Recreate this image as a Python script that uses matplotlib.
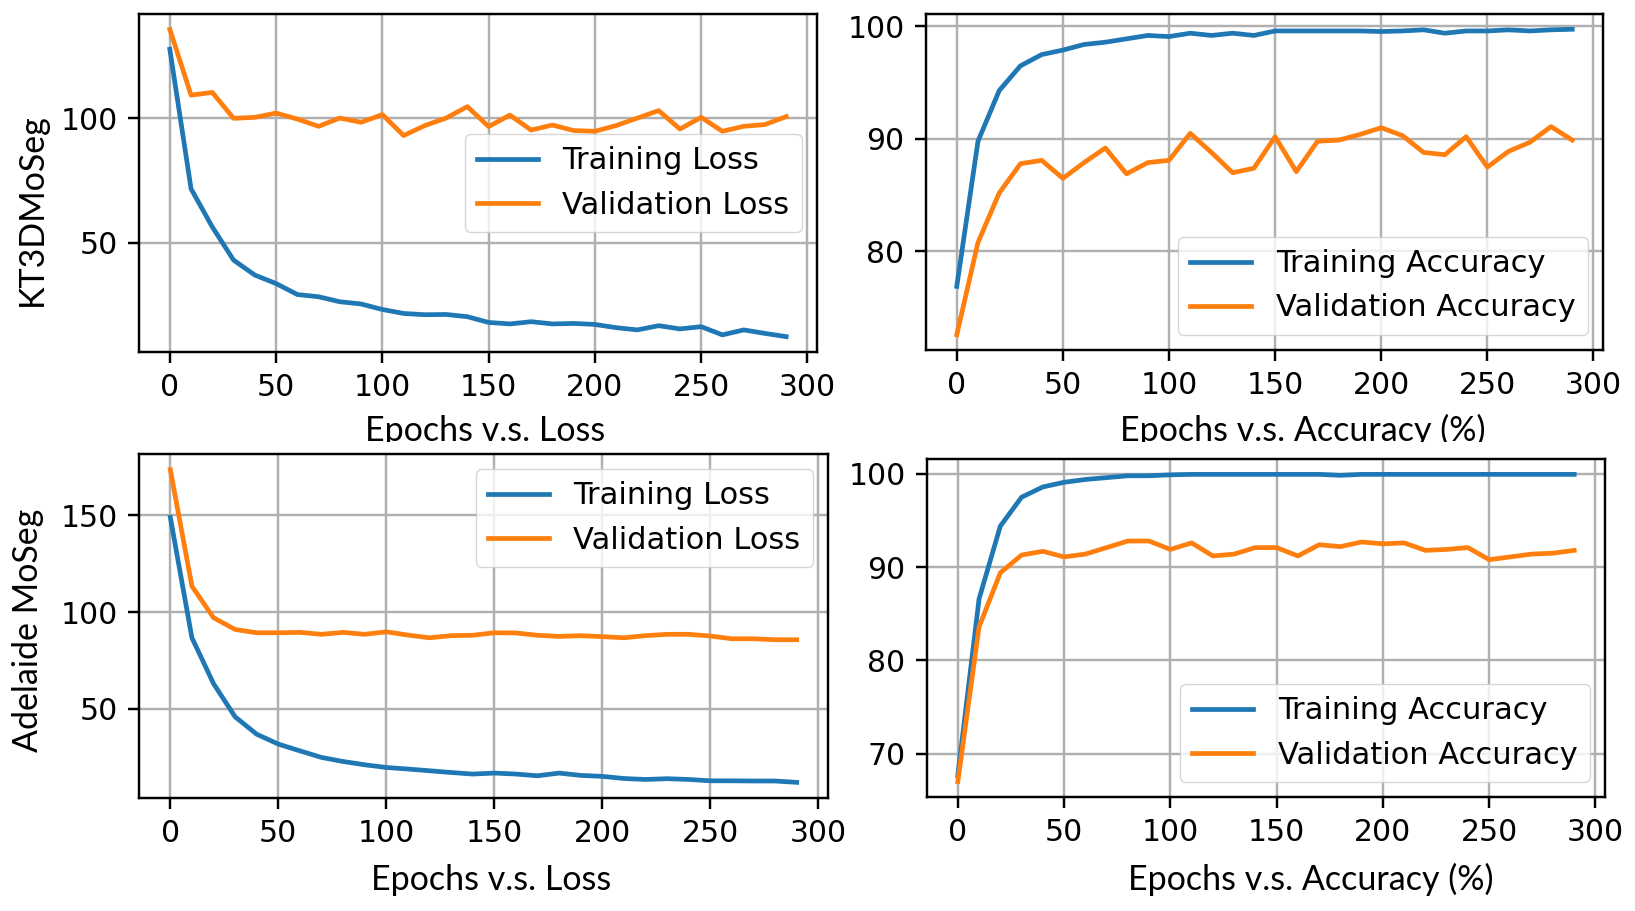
import matplotlib
matplotlib.use("Agg")
import matplotlib.pyplot as plt
from matplotlib.transforms import Bbox, TransformedBbox

epochs = list(range(0, 300, 10))

kt_train_loss = [127.7, 71.7, 56.4, 43.1, 37.1, 33.7, 29.3, 28.4, 26.4, 25.5,
                 23.3, 21.7, 21.2, 21.3, 20.4, 18.1, 17.5, 18.4, 17.5, 17.7,
                 17.3, 16.0, 15.1, 16.8, 15.5, 16.4, 13.1, 15.1, 13.7, 12.4]
kt_val_loss = [135.7, 109.3, 110.4, 100.0, 100.4, 102.1, 99.7, 96.8, 100.1, 98.4,
               101.5, 93.1, 97.1, 100.1, 104.7, 96.7, 101.3, 95.3, 97.3, 95.1,
               94.8, 97.1, 100.1, 103.1, 95.7, 100.4, 94.8, 96.8, 97.5, 100.7]
kt_train_acc = [76.9, 89.8, 94.3, 96.5, 97.5, 97.9, 98.4, 98.6, 98.9, 99.2,
                99.1, 99.4, 99.2, 99.4, 99.2, 99.6, 99.6, 99.6, 99.6, 99.6,
                99.55, 99.6, 99.7, 99.4, 99.6, 99.6, 99.7, 99.6, 99.7, 99.75]
kt_val_acc = [72.6, 80.8, 85.2, 87.8, 88.1, 86.5, 87.9, 89.2, 86.9, 87.9,
              88.1, 90.5, 88.8, 87.0, 87.4, 90.2, 87.1, 89.8, 89.9, 90.4,
              91.0, 90.3, 88.8, 88.6, 90.2, 87.5, 88.9, 89.7, 91.1, 89.9]

ad_train_loss = [149.0, 86.7, 63.0, 45.8, 36.8, 31.7, 28.2, 24.8, 22.7, 21.0,
                 19.6, 18.8, 17.9, 17.0, 16.2, 16.7, 16.2, 15.3, 16.7, 15.5,
                 15.0, 13.9, 13.4, 13.8, 13.4, 12.7, 12.7, 12.6, 12.6, 11.9]
ad_val_loss = [173.7, 113.4, 97.1, 91.0, 89.3, 89.3, 89.5, 88.5, 89.5, 88.5,
               89.8, 88.1, 86.7, 87.8, 88.0, 89.3, 89.2, 88.0, 87.4, 87.8,
               87.3, 86.7, 87.8, 88.5, 88.5, 87.6, 86.2, 86.2, 85.7, 85.7]
ad_train_acc = [67.65, 86.6, 94.4, 97.5, 98.6, 99.1, 99.4, 99.6, 99.8, 99.8,
                99.9, 99.95, 99.95, 99.95, 99.95, 99.95, 99.95, 99.95, 99.85, 99.95,
                99.95, 99.95, 99.95, 99.95, 99.95, 99.95, 99.95, 99.95, 99.95, 99.95]
ad_val_acc = [67.0, 83.6, 89.4, 91.3, 91.7, 91.1, 91.4, 92.1, 92.8, 92.8,
              91.9, 92.6, 91.2, 91.4, 92.1, 92.1, 91.2, 92.4, 92.2, 92.7,
              92.5, 92.6, 91.8, 91.9, 92.1, 90.8, 91.1, 91.4, 91.5, 91.8]

row_labels = ["KT3DMoSeg", "Adelaide MoSeg"]
loss_names = ["Training Loss", "Validation Loss"]
acc_names = ["Training Accuracy", "Validation Accuracy"]
xlabel_loss = "Epochs v.s. Loss"
xlabel_acc = "Epochs v.s. Accuracy (%)"
xticks = [0, 50, 100, 150, 200, 250, 300]

W, H = 1635, 911
S = 2.2
plt.rcParams.update({
    "font.family": "DejaVu Sans",
    "font.size": 21.5,
    "axes.linewidth": 0.8 * S,
    "lines.linewidth": 3.4,
    "grid.linewidth": 0.8 * S,
    "grid.color": "#b0b0b0",
    "xtick.major.size": 3.5 * S,
    "ytick.major.size": 3.5 * S,
    "xtick.major.width": 0.8 * S,
    "ytick.major.width": 0.8 * S,
    "xtick.major.pad": 3.5 * S,
    "ytick.major.pad": 3.5 * S,
    "legend.fontsize": 22,
})

fig = plt.figure(figsize=(W / 100, H / 100), dpi=100)


def rect(l, r, t, b):
    return [l / W, 1 - b / H, (r - l) / W, (b - t) / H]


panels = [
    (rect(139, 817, 14, 352), kt_train_loss, kt_val_loss, loss_names, "center right", [50, 100]),
    (rect(926, 1603, 14, 350), kt_train_acc, kt_val_acc, acc_names, "lower right", [80, 90, 100]),
    (rect(139, 828, 454, 798), ad_train_loss, ad_val_loss, loss_names, "upper right", [50, 100, 150]),
    (rect(927, 1605, 459, 797), ad_train_acc, ad_val_acc, acc_names, "lower right", [70, 80, 90, 100]),
]

for pos, tr, va, names, loc, yt in panels:
    ax = fig.add_axes(pos)
    ax.plot(epochs, tr, color="#1f77b4", label=names[0])
    ax.plot(epochs, va, color="#ff7f0e", label=names[1])
    ax.set_xticks(xticks)
    ax.set_yticks(yt)
    ax.grid(True)
    ax.legend(loc=loc)

lab_font = dict(family=["Lato", "DejaVu Sans"], fontsize=24.5)
t1 = fig.text(485 / W, 1 - 441 / H, xlabel_loss, ha="center", va="baseline", **lab_font)
t2 = fig.text(1303 / W, 1 - 441 / H, xlabel_acc, ha="center", va="baseline", **lab_font)
clip = TransformedBbox(Bbox.from_extents(0, 1 - 442 / H, 1, 1), fig.transFigure)
for t in (t1, t2):
    t.set_clip_box(clip)
    t.set_clip_on(True)
fig.text(491 / W, 1 - 890 / H, xlabel_loss, ha="center", va="baseline", **lab_font)
fig.text(1311 / W, 1 - 890 / H, xlabel_acc, ha="center", va="baseline", **lab_font)

fig.text(32 / W, 1 - 210 / H, row_labels[0], rotation=90, ha="center", va="center", **lab_font)
fig.text(28 / W, 1 - 630 / H, row_labels[1], rotation=90, ha="center", va="center", **lab_font)

fig.savefig("out.png", dpi=100)
